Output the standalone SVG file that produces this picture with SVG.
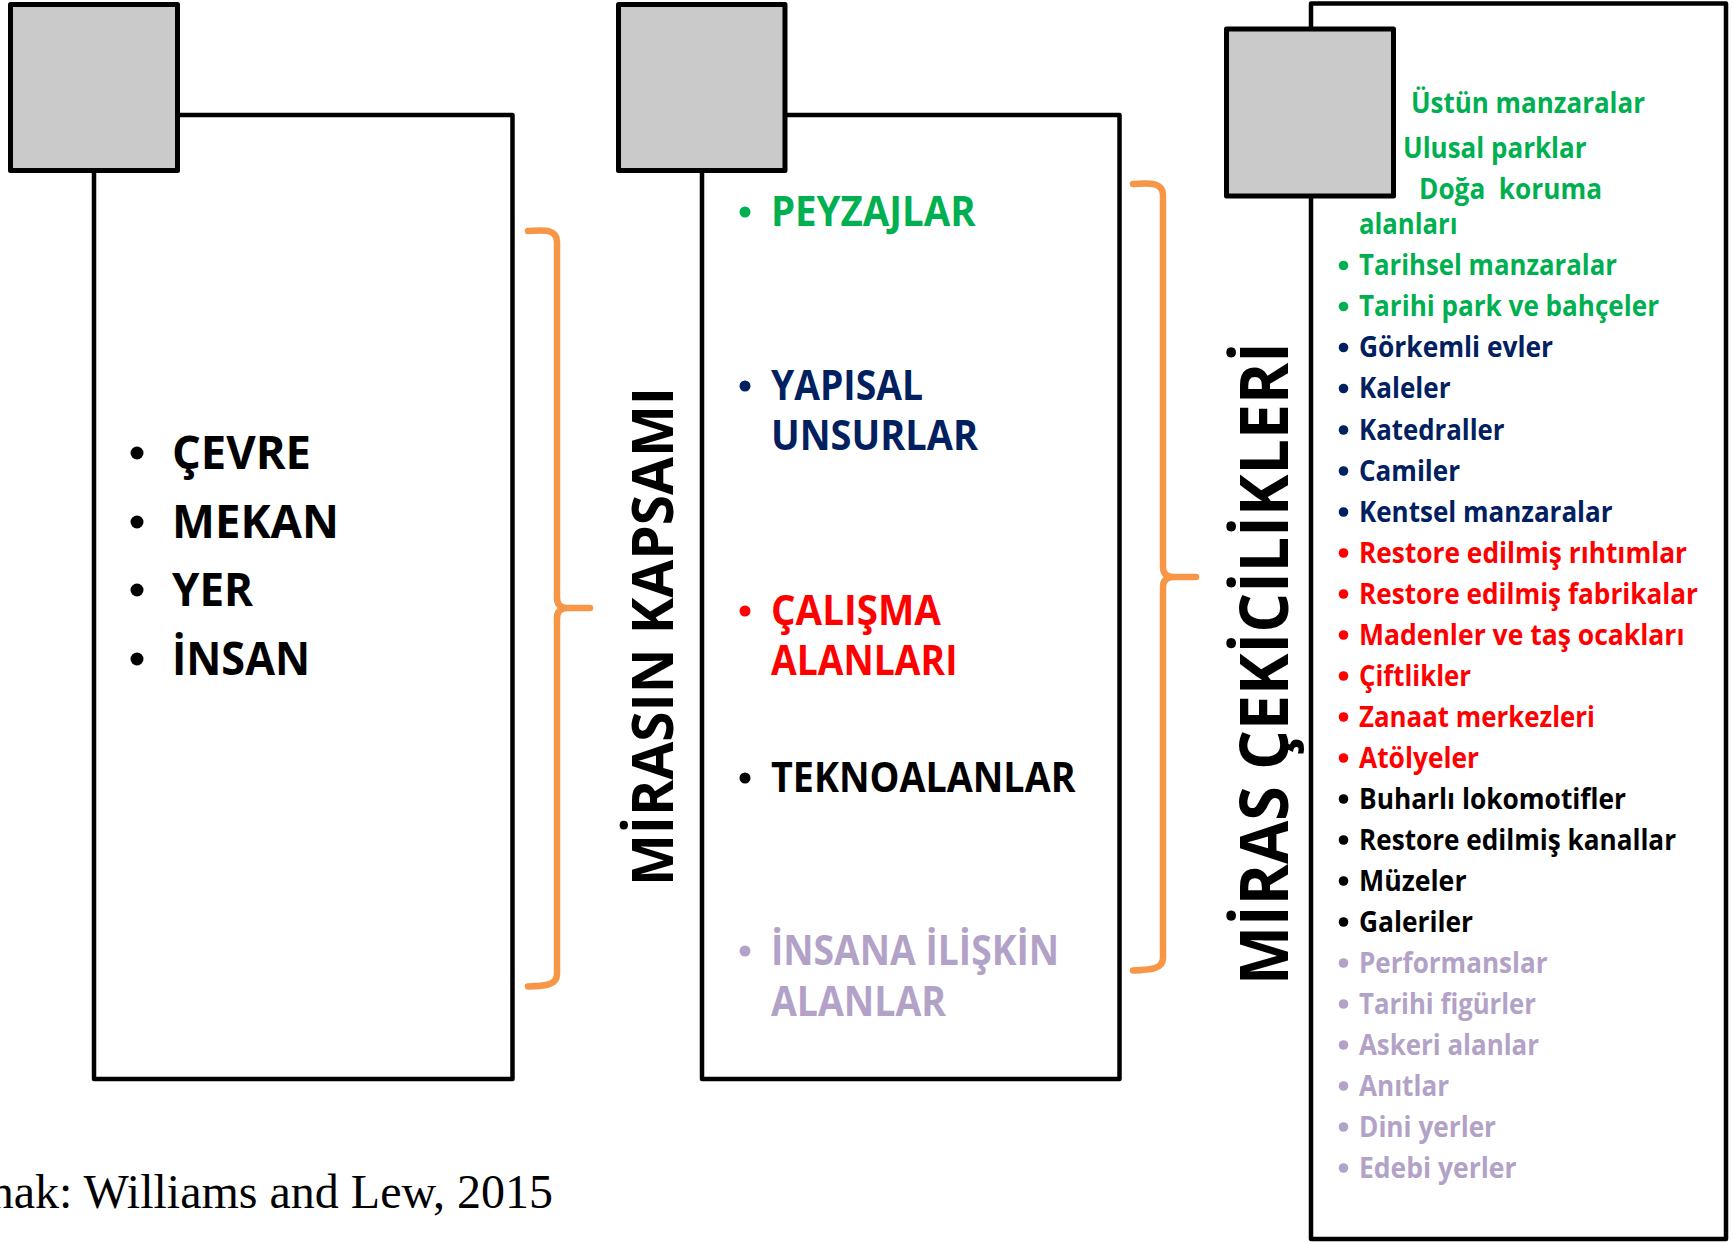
<svg xmlns="http://www.w3.org/2000/svg" width="1733" height="1242" viewBox="0 0 1733 1242">
<style>
.box{fill:#fff;stroke:#000;stroke-width:4.5;stroke-linejoin:round}
.sq{fill:#CACACA;stroke:#000;stroke-width:5;stroke-linejoin:round}
.br{fill:none;stroke:#F79646;stroke-width:6.5;stroke-linecap:round;stroke-linejoin:round}
text{font-family:"Open Sans","Liberation Sans",sans-serif;font-weight:700}
.l{font-size:47px;fill:#000}
.m{font-size:40.5px}
.r{font-size:28.5px}
.t{font-size:57.4px;fill:#000}
.t2{font-size:66.5px;fill:#000}
.g{fill:#00B050}.n{fill:#002060}.d{fill:#FF0000}.k{fill:#000}.p{fill:#B3A2C7}
.src{font-family:"Liberation Serif","Times New Roman",serif;font-weight:400;font-size:48px;fill:#000}
</style>

<g id="node-left">
  <rect class="box" x="94" y="115" width="418.5" height="964"/>
  <rect class="sq" x="10.5" y="4.5" width="167" height="166"/>
  <circle cx="137" cy="453" r="6.5"/>
  <circle cx="137" cy="522" r="6.5"/>
  <circle cx="137" cy="590" r="6.5"/>
  <circle cx="137" cy="659" r="6.5"/>
  <text class="l" x="172" y="469" textLength="139" lengthAdjust="spacingAndGlyphs">ÇEVRE</text>
  <text class="l" x="172" y="538" textLength="167" lengthAdjust="spacingAndGlyphs">MEKAN</text>
  <text class="l" x="172" y="606" textLength="81" lengthAdjust="spacingAndGlyphs">YER</text>
  <text class="l" x="172" y="675" textLength="138" lengthAdjust="spacingAndGlyphs">İNSAN</text>
</g>

<g id="node-middle">
  <rect class="box" x="702" y="115" width="417.5" height="964"/>
  <rect class="sq" x="618.5" y="4.5" width="166.5" height="166"/>
  <circle class="g" cx="745" cy="212" r="5.5"/>
  <circle class="n" cx="745" cy="386" r="5.5"/>
  <circle class="d" cx="745" cy="611" r="5.5"/>
  <circle class="k" cx="745" cy="778" r="5.5"/>
  <circle class="p" cx="745" cy="951" r="5.5"/>
  <text class="m g" x="771" y="225.5" textLength="204.5" lengthAdjust="spacingAndGlyphs">PEYZAJLAR</text>
  <text class="m n" x="771" y="399.5" textLength="152" lengthAdjust="spacingAndGlyphs">YAPISAL</text>
  <text class="m n" x="771" y="450" textLength="207" lengthAdjust="spacingAndGlyphs">UNSURLAR</text>
  <text class="m d" x="771" y="624.5" textLength="170" lengthAdjust="spacingAndGlyphs">ÇALIŞMA</text>
  <text class="m d" x="771" y="674.5" textLength="186.5" lengthAdjust="spacingAndGlyphs">ALANLARI</text>
  <text class="m k" x="771" y="791.5" textLength="304.5" lengthAdjust="spacingAndGlyphs">TEKNOALANLAR</text>
  <text class="m p" x="771" y="965" textLength="288" lengthAdjust="spacingAndGlyphs">İNSANA İLİŞKİN</text>
  <text class="m p" x="771" y="1016" textLength="175" lengthAdjust="spacingAndGlyphs">ALANLAR</text>
</g>

<g id="node-right">
  <rect class="box" x="1311" y="3.5" width="415" height="1235.5"/>
  <g class="r">
    <text class="g" x="1411" y="112.5" textLength="234" lengthAdjust="spacingAndGlyphs">Üstün manzaralar</text>
    <text class="g" x="1403" y="158" textLength="183.5" lengthAdjust="spacingAndGlyphs">Ulusal parklar</text>
    <text class="g" x="1419" y="199" textLength="183" lengthAdjust="spacingAndGlyphs" xml:space="preserve">Doğa  koruma</text>
    <text class="g" x="1359" y="233.5" textLength="98.5" lengthAdjust="spacingAndGlyphs">alanları</text>
    <text class="g" x="1359" y="275" textLength="258" lengthAdjust="spacingAndGlyphs">Tarihsel manzaralar</text>
    <text class="g" x="1359" y="316" textLength="300" lengthAdjust="spacingAndGlyphs">Tarihi park ve bahçeler</text>
    <text class="n" x="1359" y="357" textLength="194" lengthAdjust="spacingAndGlyphs">Görkemli evler</text>
    <text class="n" x="1359" y="398" textLength="91.5" lengthAdjust="spacingAndGlyphs">Kaleler</text>
    <text class="n" x="1359" y="439.5" textLength="145.5" lengthAdjust="spacingAndGlyphs">Katedraller</text>
    <text class="n" x="1359" y="480.5" textLength="101" lengthAdjust="spacingAndGlyphs">Camiler</text>
    <text class="n" x="1359" y="521.5" textLength="253.5" lengthAdjust="spacingAndGlyphs">Kentsel manzaralar</text>
    <text class="d" x="1359" y="562.5" textLength="328" lengthAdjust="spacingAndGlyphs">Restore edilmiş rıhtımlar</text>
    <text class="d" x="1359" y="603.5" textLength="339" lengthAdjust="spacingAndGlyphs">Restore edilmiş fabrikalar</text>
    <text class="d" x="1359" y="644.5" textLength="325.5" lengthAdjust="spacingAndGlyphs">Madenler ve taş ocakları</text>
    <text class="d" x="1359" y="685.5" textLength="112" lengthAdjust="spacingAndGlyphs">Çiftlikler</text>
    <text class="d" x="1359" y="726.5" textLength="236" lengthAdjust="spacingAndGlyphs">Zanaat merkezleri</text>
    <text class="d" x="1359" y="767.5" textLength="120" lengthAdjust="spacingAndGlyphs">Atölyeler</text>
    <text class="k" x="1359" y="808.5" textLength="267" lengthAdjust="spacingAndGlyphs">Buharlı lokomotifler</text>
    <text class="k" x="1359" y="849.5" textLength="317" lengthAdjust="spacingAndGlyphs">Restore edilmiş kanallar</text>
    <text class="k" x="1359" y="890.5" textLength="107.5" lengthAdjust="spacingAndGlyphs">Müzeler</text>
    <text class="k" x="1359" y="931.5" textLength="114" lengthAdjust="spacingAndGlyphs">Galeriler</text>
    <text class="p" x="1359" y="972.5" textLength="188.5" lengthAdjust="spacingAndGlyphs">Performanslar</text>
    <text class="p" x="1359" y="1013.5" textLength="177" lengthAdjust="spacingAndGlyphs">Tarihi figürler</text>
    <text class="p" x="1359" y="1054.5" textLength="180" lengthAdjust="spacingAndGlyphs">Askeri alanlar</text>
    <text class="p" x="1359" y="1095.5" textLength="90" lengthAdjust="spacingAndGlyphs">Anıtlar</text>
    <text class="p" x="1359" y="1136.5" textLength="137" lengthAdjust="spacingAndGlyphs">Dini yerler</text>
    <text class="p" x="1359" y="1177.5" textLength="157.5" lengthAdjust="spacingAndGlyphs">Edebi yerler</text>
  </g>
  <g>
    <circle class="g" cx="1343.5" cy="265.5" r="4.8"/>
    <circle class="g" cx="1343.5" cy="306.5" r="4.8"/>
    <circle class="n" cx="1343.5" cy="347.5" r="4.8"/>
    <circle class="n" cx="1343.5" cy="388.5" r="4.8"/>
    <circle class="n" cx="1343.5" cy="430" r="4.8"/>
    <circle class="n" cx="1343.5" cy="471" r="4.8"/>
    <circle class="n" cx="1343.5" cy="512" r="4.8"/>
    <circle class="d" cx="1343.5" cy="553" r="4.8"/>
    <circle class="d" cx="1343.5" cy="594" r="4.8"/>
    <circle class="d" cx="1343.5" cy="635" r="4.8"/>
    <circle class="d" cx="1343.5" cy="676" r="4.8"/>
    <circle class="d" cx="1343.5" cy="717" r="4.8"/>
    <circle class="d" cx="1343.5" cy="758" r="4.8"/>
    <circle class="k" cx="1343.5" cy="799" r="4.8"/>
    <circle class="k" cx="1343.5" cy="840" r="4.8"/>
    <circle class="k" cx="1343.5" cy="881" r="4.8"/>
    <circle class="k" cx="1343.5" cy="922" r="4.8"/>
    <circle class="p" cx="1343.5" cy="963" r="4.8"/>
    <circle class="p" cx="1343.5" cy="1004" r="4.8"/>
    <circle class="p" cx="1343.5" cy="1045" r="4.8"/>
    <circle class="p" cx="1343.5" cy="1086" r="4.8"/>
    <circle class="p" cx="1343.5" cy="1127" r="4.8"/>
    <circle class="p" cx="1343.5" cy="1168" r="4.8"/>
  </g>
  <rect class="sq" x="1226.5" y="29" width="167" height="167"/>
</g>

<g id="title-kapsam">
  <text class="t" transform="translate(673,886) rotate(-90)" x="0" y="0" textLength="499" lengthAdjust="spacingAndGlyphs">MİRASIN KAPSAMI</text>
</g>
<g id="title-cekicilik">
  <text class="t2" transform="translate(1288,985) rotate(-90)" x="0" y="0" textLength="643" lengthAdjust="spacingAndGlyphs">MİRAS ÇEKİCİLİKLERİ</text>
</g>

<g id="connectors">
  <path class="br" d="M528,231 C546,229.5 557,230 557,242 L557,598 C557,604 560,608 567,608 L590,608 M567,608 C560,608 557,612 557,618 L557,974 C557,985 546,986 528,986.5"/>
  <path class="br" d="M1133,184 C1151,182.5 1163,183 1163,195 L1163,567 C1163,573 1166,577 1173,577 L1196,577 M1173,577 C1166,577 1163,581 1163,587 L1163,958 C1163,969 1151,970 1133,970.5"/>
</g>

<text class="src" x="553" y="1208" text-anchor="end">nak: Williams and Lew, 2015</text>
</svg>
